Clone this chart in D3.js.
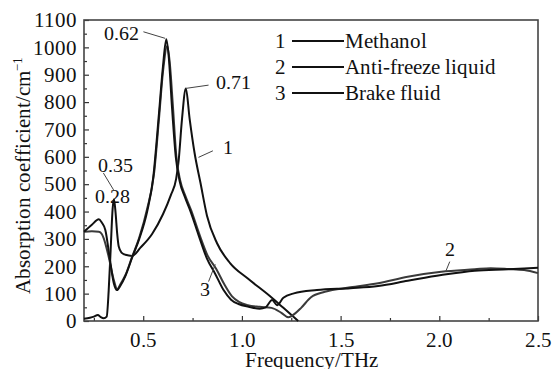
<!DOCTYPE html>
<html>
<head>
<meta charset="utf-8">
<script src="https://cdn.jsdelivr.net/npm/d3@7"></script>
<style>
  @font-face { font-family: "ChartSerif"; src: local("Liberation Serif"), local("LiberationSerif-Regular"), local("Times New Roman"), local("Tinos"); }
</style>
</head>
<body style="margin:0; background:#fff">
<div id="chart"></div>
<script>
// Series (frequency in THz, absorption in cm^-1)
const methanolFreq = [0.20, 0.23, 0.25, 0.27, 0.285, 0.30, 0.315, 0.325, 0.335, 0.345, 0.352, 0.36, 0.368, 0.376, 0.39, 0.41, 0.444, 0.486, 0.545, 0.60, 0.64, 0.667, 0.68, 0.696, 0.716, 0.735, 0.76, 0.79, 0.823, 0.874, 0.941, 1.03, 1.14, 1.21, 1.285];
const methanolValues = [8, 12, 16, 22, 14, 10, 16, 110, 260, 410, 445, 395, 320, 272, 250, 242, 238, 268, 318, 390, 460, 520, 590, 734, 850, 740, 615, 505, 385, 284, 211, 155, 92, 48, 0];

const antifreezeFreq = [0.20, 0.24, 0.275, 0.29, 0.30, 0.325, 0.351, 0.368, 0.385, 0.41, 0.444, 0.48, 0.52, 0.555, 0.58, 0.60, 0.622, 0.635, 0.65, 0.668, 0.688, 0.713, 0.743, 0.783, 0.827, 0.87, 0.91, 0.95, 0.985, 1.03, 1.09, 1.15, 1.20, 1.235, 1.27, 1.30, 1.35, 1.42, 1.55, 1.69, 1.84, 2.01, 2.18, 2.26, 2.35, 2.43, 2.5];
const antifreezeValues = [326, 328, 326, 318, 302, 235, 150, 117, 135, 168, 235, 305, 410, 540, 740, 910, 1005, 940, 790, 600, 512, 458, 404, 320, 238, 190, 135, 90, 70, 58, 52, 48, 30, 14, 28, 48, 87, 107, 123, 138, 162, 180, 189, 193, 190, 186, 175];

const brakeFreq = [0.20, 0.24, 0.275, 0.29, 0.308, 0.334, 0.351, 0.367, 0.385, 0.41, 0.444, 0.48, 0.52, 0.55, 0.58, 0.60, 0.617, 0.63, 0.645, 0.665, 0.685, 0.71, 0.74, 0.78, 0.823, 0.865, 0.907, 0.945, 0.983, 1.034, 1.09, 1.12, 1.153, 1.178, 1.21, 1.263, 1.38, 1.55, 1.69, 1.84, 2.01, 2.18, 2.35, 2.43, 2.5];
const brakeValues = [326, 352, 372, 360, 333, 211, 138, 113, 130, 165, 232, 300, 400, 520, 760, 930, 1030, 960, 790, 600, 510, 455, 400, 315, 228, 172, 113, 78, 62, 52, 45, 50, 77, 58, 85, 101, 113, 120, 128, 147, 168, 184, 189, 192, 195];

const seriesNames = ["Methanol", "Anti-freeze liquid", "Brake fluid"];
const seriesColors = ["#111", "#3a3a3a", "#111"];

const xTickValues = [0.5, 1.0, 1.5, 2.0, 2.5];
const xMinorTicks = [0.25, 0.75, 1.25, 1.75, 2.25];
const yTickValues = d3.range(0, 1101, 100);
const yMinorTicks = d3.range(50, 1100, 100);

// Peak labels: text position and leader line, in data units
const annotations = [
  { text: "0.62", tx: 0.302, ty: 1027, from: [0.501, 1057], to: [0.611, 1033] },
  { text: "0.71", tx: 0.870, ty: 848, from: [0.831, 862], to: [0.715, 850] },
  { text: "1", tx: 0.903, ty: 610, from: [0.853, 622], to: [0.780, 598] },
  { text: "0.35", tx: 0.271, ty: 545, from: [0.298, 541], to: [0.350, 479] },
  { text: "0.28", tx: 0.256, ty: 431 },
  { text: "3", tx: 0.789, ty: 91, from: [0.831, 144], to: [0.865, 207] },
  { text: "2", tx: 2.027, ty: 238, from: [2.053, 217], to: [2.032, 180] }
];

const fontStack = "ChartSerif, 'Liberation Serif', 'Times New Roman', Tinos, FreeSerif, serif";

const width = 560,
  height = 369;
const margin = { top: 20, right: 22, bottom: 48, left: 84 };
const fontSize = 21;

const svg = d3.select("#chart")
  .append("svg")
  .attr("width", width)
  .attr("height", height)
  .attr("style", "font-family: " + fontStack);

const x = d3.scaleLinear()
  .domain([0.2, 2.5])
  .range([margin.left, width - margin.right]);

const y = d3.scaleLinear()
  .domain([0, 1100])
  .range([height - margin.bottom, margin.top]);

// Axes with inward ticks
svg.append("g")
  .attr("transform", "translate(0," + y(0) + ")")
  .call(d3.axisBottom(x).tickValues(xTickValues).tickSize(-5).tickPadding(11).tickFormat(d3.format(".1f")));

svg.append("g")
  .attr("transform", "translate(0," + y(0) + ")")
  .call(d3.axisBottom(x).tickValues(xMinorTicks).tickSize(-3).tickFormat(""));

svg.append("g")
  .attr("transform", "translate(" + x(0.2) + ",0)")
  .call(d3.axisLeft(y).tickValues(yTickValues).tickSize(-5).tickPadding(7).tickFormat(d3.format("d")));

svg.append("g")
  .attr("transform", "translate(" + x(0.2) + ",0)")
  .call(d3.axisLeft(y).tickValues(yMinorTicks).tickSize(-3).tickFormat(""));

svg.selectAll(".domain").remove();
svg.selectAll("g").attr("font-family", null);
svg.selectAll(".tick line").attr("stroke", "#333").attr("stroke-width", 1.2);
svg.selectAll(".tick text").attr("font-size", fontSize);

// Frame
svg.append("rect")
  .attr("x", x(0.2))
  .attr("y", y(1100))
  .attr("width", x(2.5) - x(0.2))
  .attr("height", y(0) - y(1100))
  .attr("fill", "none")
  .attr("stroke", "#444")
  .attr("stroke-width", 1.6);

// Curves
const line = d3.line()
  .x(function (d) { return x(d[0]); })
  .y(function (d) { return y(d[1]); })
  .curve(d3.curveMonotoneX);

const series = [
  d3.zip(methanolFreq, methanolValues),
  d3.zip(antifreezeFreq, antifreezeValues),
  d3.zip(brakeFreq, brakeValues)
];

svg.selectAll(".curve")
  .data(series)
  .enter()
  .append("path")
  .attr("class", "curve")
  .attr("d", line)
  .attr("fill", "none")
  .attr("stroke", function (d, i) { return seriesColors[i]; })
  .attr("stroke-width", 2)
  .attr("stroke-linejoin", "round");

// Legend
seriesNames.forEach(function (name, i) {
  const ly = 41 + i * 26;
  svg.append("text")
    .attr("x", 275)
    .attr("y", ly + 7)
    .attr("font-size", fontSize)
    .text(i + 1);
  svg.append("line")
    .attr("x1", 292)
    .attr("x2", 344)
    .attr("y1", ly)
    .attr("y2", ly)
    .attr("stroke", "#111")
    .attr("stroke-width", 2);
  svg.append("text")
    .attr("x", 345)
    .attr("y", ly + 7)
    .attr("font-size", fontSize)
    .text(name);
});

// Peak annotations
annotations.forEach(function (a) {
  if (a.from) {
    svg.append("line")
      .attr("x1", x(a.from[0]))
      .attr("y1", y(a.from[1]))
      .attr("x2", x(a.to[0]))
      .attr("y2", y(a.to[1]))
      .attr("stroke", "#444")
      .attr("stroke-width", 1);
  }
  svg.append("text")
    .attr("x", x(a.tx))
    .attr("y", y(a.ty))
    .attr("font-size", 20)
    .text(a.text);
});

// Axis titles
svg.append("text")
  .attr("x", (x(0.2) + x(2.5)) / 2)
  .attr("y", 367)
  .attr("text-anchor", "middle")
  .attr("font-size", fontSize)
  .text("Frequency/THz");

const yTitle = svg.append("text")
  .attr("transform", "translate(30,175) rotate(-90)")
  .attr("text-anchor", "middle")
  .attr("font-size", fontSize);
yTitle.append("tspan").text("Absorption coefficient/cm");
yTitle.append("tspan")
  .attr("dy", -8)
  .attr("font-size", 13)
  .text("\u22121");

svg.selectAll("text")
  .attr("font-family", fontStack)
  .style("font-family", fontStack)
  .attr("fill", "#111");
</script>
</body>
</html>
